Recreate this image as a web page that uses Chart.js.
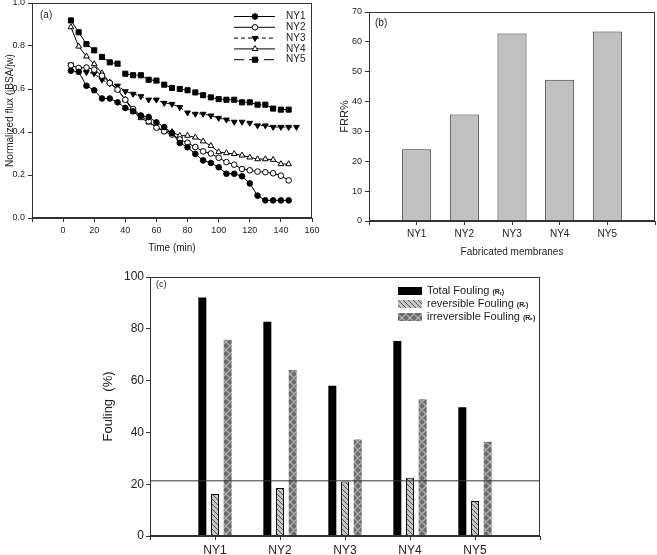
<!DOCTYPE html>
<html>
<head>
<meta charset="utf-8">
<script src="https://cdn.jsdelivr.net/npm/chart.js@4.4.1/dist/chart.umd.min.js"></script>
<style>
    body { margin: 0; background: #fff; width: 657px; height: 555px; position: relative; overflow: hidden; }
    canvas { position: absolute; }
</style>
</head>
<body>
<canvas id="fluxChart" width="330" height="260" style="left:0;top:-2px"></canvas>
<canvas id="frrChart" width="327" height="262" style="left:330px;top:0"></canvas>
<canvas id="foulChart" width="567" height="293" style="left:90px;top:262px"></canvas>
<script>
// (a) normalized flux vs time
const time = [5, 10, 15, 20, 25, 30, 35, 40, 45, 50, 55, 60, 65, 70, 75, 80, 85, 90, 95, 100, 105, 110, 115, 120, 125, 130, 135, 140, 145, 150]
const ny1 = [0.685, 0.68, 0.615, 0.594, 0.556, 0.556, 0.538, 0.512, 0.496, 0.476, 0.47, 0.445, 0.423, 0.395, 0.349, 0.329, 0.298, 0.268, 0.256, 0.236, 0.206, 0.206, 0.194, 0.161, 0.104, 0.082, 0.082, 0.082, 0.082]
const ny2 = [0.71, 0.698, 0.70, 0.69, 0.662, 0.628, 0.597, 0.55, 0.507, 0.476, 0.45, 0.42, 0.403, 0.388, 0.365, 0.35, 0.33, 0.31, 0.30, 0.28, 0.26, 0.248, 0.228, 0.222, 0.216, 0.213, 0.208, 0.197, 0.175]
const ny3 = [0.713, 0.69, 0.678, 0.672, 0.643, 0.625, 0.615, 0.589, 0.577, 0.566, 0.55, 0.55, 0.535, 0.53, 0.515, 0.49, 0.484, 0.484, 0.476, 0.465, 0.457, 0.447, 0.447, 0.442, 0.43, 0.43, 0.423, 0.423, 0.423, 0.423]
const ny4 = [0.888, 0.798, 0.752, 0.716, 0.674, 0.631, 0.597, 0.55, 0.496, 0.465, 0.445, 0.423, 0.406, 0.40, 0.383, 0.383, 0.375, 0.357, 0.336, 0.307, 0.302, 0.298, 0.291, 0.282, 0.274, 0.274, 0.271, 0.251, 0.251]
const ny5 = [0.919, 0.864, 0.809, 0.78, 0.749, 0.724, 0.718, 0.671, 0.664, 0.664, 0.643, 0.639, 0.62, 0.605, 0.6, 0.594, 0.584, 0.571, 0.561, 0.553, 0.55, 0.55, 0.538, 0.538, 0.527, 0.527, 0.509, 0.504, 0.504]

// (b) FRR
const membranes = ["NY1", "NY2", "NY3", "NY4", "NY5"]
const frr = [24, 35.7, 62.8, 47.3, 63.5]

// (c) fouling
const totalFouling = [92.1, 82.7, 58, 75.3, 49.7]
const reversibleFouling = [16.2, 18.5, 21, 22.5, 13.5]
const irreversibleFouling = [75.8, 64.1, 37.3, 52.8, 36.4]
const refLevel = 21.3

const FONT = "'Liberation Sans', Arial, sans-serif"
Chart.defaults.font.family = FONT
Chart.defaults.color = "#222"

const toPoints = arr => arr.map((v, i) => ({ x: time[i], y: v }))
const toBars = arr => arr.map((v, i) => ({ x: i + 1, y: v }))

function makePattern(bg, fg, size, cross, lw) {
    const c = document.createElement("canvas")
    c.width = size
    c.height = size
    const g = c.getContext("2d")
    g.fillStyle = bg
    g.fillRect(0, 0, size, size)
    g.strokeStyle = fg
    g.lineWidth = lw
    g.beginPath()
    for (const k of [-size, 0, size]) {
        g.moveTo(k, 0)
        g.lineTo(k + size, size)
        if (cross) {
            g.moveTo(k + size, 0)
            g.lineTo(k, size)
        }
    }
    g.stroke()
    return g.createPattern(c, "repeat")
}

const revPattern = makePattern("#c6c6c6", "#333", 5, false, 0.8)
const irrPattern = makePattern("#6c6c6c", "#b8b8b8", 8, true, 1.2)

// box around the plot area
const frame = {
    id: "frame",
    afterDraw(chart) {
        const { ctx, chartArea: a } = chart
        ctx.save()
        ctx.strokeStyle = "#333"
        ctx.lineWidth = 1
        ctx.strokeRect(Math.round(a.left) + 0.5, Math.round(a.top) + 0.5, Math.round(a.right - a.left) - 1, Math.round(a.bottom - a.top) - 1)
        ctx.restore()
    }
}

const panelLabel = {
    id: "panelLabel",
    afterDraw(chart, args, opts) {
        const ctx = chart.ctx
        ctx.save()
        ctx.font = opts.size + "px " + FONT
        ctx.fillStyle = "#222"
        ctx.textBaseline = "middle"
        ctx.fillText(opts.text, opts.x, opts.y)
        ctx.restore()
    }
}

const fluxLegend = {
    id: "fluxLegend",
    afterDraw(chart) {
        const ctx = chart.ctx
        chart.data.datasets.forEach((ds, i) => {
            const y = 18.5 + i * 10.8
            ctx.save()
            ctx.strokeStyle = "#000"
            ctx.lineWidth = 1
            ctx.setLineDash(ds.borderDash || [])
            ctx.beginPath()
            ctx.moveTo(234, y)
            ctx.lineTo(275, y)
            ctx.stroke()
            ctx.setLineDash([])
            ctx.fillStyle = ds.pointBackgroundColor
            ctx.strokeStyle = "#000"
            Chart.helpers.drawPoint(ctx, { pointStyle: ds.pointStyle, radius: ds.pointRadius, rotation: ds.pointRotation || 0, borderWidth: 1 }, 255, y)
            ctx.fillStyle = "#222"
            ctx.font = "10px " + FONT
            ctx.textBaseline = "middle"
            ctx.fillText(ds.label, 286, y)
            ctx.restore()
        })
    }
}

const foulLegend = {
    id: "foulLegend",
    afterDraw(chart) {
        const ctx = chart.ctx
        const items = [
            ["Total Fouling ", "(R\u209c)"],
            ["reversible Fouling ", "(R\u1d63)"],
            ["irreversible Fouling ", "(R\u1d62\u1d63)"]
        ]
        items.forEach((item, i) => {
            const ds = chart.data.datasets[i]
            const y = 29 + i * 13
            ctx.save()
            ctx.fillStyle = ds.backgroundColor
            ctx.fillRect(308, y - 4, 24, 8)
            ctx.fillStyle = "#222"
            ctx.textBaseline = "middle"
            ctx.font = "11px " + FONT
            ctx.fillText(item[0], 337, y)
            const w = ctx.measureText(item[0]).width
            ctx.font = "bold 7px " + FONT
            ctx.fillText(item[1], 337 + w, y + 1)
            ctx.restore()
        })
    }
}

const flatTicks = { drawOnChartArea: false, tickLength: 4, color: "#333" }
const fixX = h => s => { s.height = h; s.paddingLeft = 0; s.paddingRight = 0 }
const fixY = w => s => { s.width = w; s.paddingTop = 0; s.paddingBottom = 0 }

new Chart(document.getElementById("fluxChart"), {
    type: "line",
    data: {
        datasets: [
            { label: "NY1", data: toPoints(ny1), pointStyle: "circle", pointRadius: 2.8, pointBackgroundColor: "#000" },
            { label: "NY2", data: toPoints(ny2), pointStyle: "circle", pointRadius: 2.8, pointBackgroundColor: "#fff" },
            { label: "NY3", data: toPoints(ny3), pointStyle: "triangle", pointRotation: 180, pointRadius: 3.3, pointBackgroundColor: "#000", borderDash: [4, 3] },
            { label: "NY4", data: toPoints(ny4), pointStyle: "triangle", pointRadius: 3.3, pointBackgroundColor: "#fff" },
            { label: "NY5", data: toPoints(ny5), pointStyle: "rect", pointRadius: 3.6, pointBackgroundColor: "#000", borderDash: [10, 5] }
        ].map(ds => ({ ...ds, borderColor: "#000", borderWidth: 1, pointBorderColor: "#000", pointBorderWidth: 1, tension: 0 }))
    },
    options: {
        responsive: false,
        animation: false,
        devicePixelRatio: 1,
        events: [],
        layout: { padding: { top: 0, right: 18, left: 0, bottom: 0 } },
        scales: {
            x: {
                type: "linear",
                min: -20,
                max: 160,
                ticks: { stepSize: 20, font: { size: 9 }, maxRotation: 0, padding: 3, callback: v => v < 0 ? "" : v },
                grid: flatTicks,
                border: { color: "#333" },
                title: { display: true, text: "Time (min)", font: { size: 10 }, padding: { top: 2, bottom: 4 } },
                afterFit: fixX(40)
            },
            y: {
                min: 0,
                max: 1,
                ticks: { stepSize: 0.2, font: { size: 9 }, padding: 3, callback: v => v.toFixed(1) },
                grid: flatTicks,
                border: { color: "#333" },
                title: { display: true, text: "Normalized flux (jBSA/jw)", font: { size: 10 }, padding: { top: 4, bottom: 2 } },
                afterFit: fixY(32)
            }
        },
        plugins: {
            legend: { display: false },
            tooltip: { enabled: false },
            panelLabel: { text: "(a)", x: 40, y: 17, size: 10 }
        }
    },
    plugins: [frame, panelLabel, fluxLegend]
})

new Chart(document.getElementById("frrChart"), {
    type: "bar",
    data: {
        datasets: [{
            label: "FRR%",
            data: toBars(frr),
            backgroundColor: "#c0c0c0",
            borderColor: "#333",
            borderWidth: 1,
            categoryPercentage: 1,
            barPercentage: 0.61
        }]
    },
    options: {
        responsive: false,
        animation: false,
        devicePixelRatio: 1,
        events: [],
        layout: { padding: { top: 12, right: 2, left: 0, bottom: 0 } },
        scales: {
            x: {
                type: "linear",
                min: 0,
                max: 6,
                offset: false,
                ticks: { stepSize: 1, font: { size: 10 }, maxRotation: 0, padding: 3, callback: v => membranes[v - 1] || "" },
                grid: { ...flatTicks, offset: false },
                border: { color: "#333" },
                title: { display: true, text: "Fabricated membranes", font: { size: 10 }, padding: { top: 2, bottom: 4 } },
                afterFit: fixX(41)
            },
            y: {
                min: 0,
                max: 70,
                ticks: { stepSize: 10, font: { size: 9 }, padding: 3 },
                grid: flatTicks,
                border: { color: "#333" },
                title: { display: true, text: "FRR%", font: { size: 11 }, padding: { top: 8, bottom: 2 } },
                afterFit: fixY(39)
            }
        },
        plugins: {
            legend: { display: false },
            tooltip: { enabled: false },
            panelLabel: { text: "(b)", x: 45, y: 23, size: 10 }
        }
    },
    plugins: [frame, panelLabel]
})

new Chart(document.getElementById("foulChart"), {
    type: "bar",
    data: {
        datasets: [
            { label: "Total Fouling", data: toBars(totalFouling), backgroundColor: "#000", borderWidth: 0, order: 1 },
            { label: "reversible Fouling", data: toBars(reversibleFouling), backgroundColor: revPattern, borderColor: "#111", borderWidth: 1, order: 1 },
            { label: "irreversible Fouling", data: toBars(irreversibleFouling), backgroundColor: irrPattern, borderWidth: 0, order: 1 },
            {
                type: "line",
                label: "reference",
                data: [{ x: 0, y: refLevel }, { x: 6, y: refLevel }],
                borderColor: "#333",
                borderWidth: 1,
                pointRadius: 0,
                order: 0
            }
        ].map(ds => ds.type ? ds : { ...ds, categoryPercentage: 0.585, barPercentage: 0.63 })
    },
    options: {
        responsive: false,
        animation: false,
        devicePixelRatio: 1,
        events: [],
        layout: { padding: { top: 15, right: 117, left: 0, bottom: 0 } },
        scales: {
            x: {
                type: "linear",
                min: 0,
                max: 6,
                offset: false,
                ticks: { stepSize: 1, font: { size: 12 }, maxRotation: 0, padding: 3, callback: v => membranes[v - 1] || "" },
                grid: { ...flatTicks, offset: false },
                border: { color: "#333" },
                afterFit: fixX(19)
            },
            y: {
                min: 0,
                max: 100,
                ticks: { stepSize: 20, font: { size: 12 }, padding: 2 },
                grid: flatTicks,
                border: { color: "#333" },
                title: { display: true, text: "Fouling  (%)", font: { size: 13 }, padding: { top: 11, bottom: 2 } },
                afterFit: fixY(60)
            }
        },
        plugins: {
            legend: { display: false },
            tooltip: { enabled: false },
            panelLabel: { text: "(c)", x: 66, y: 23, size: 9 }
        }
    },
    plugins: [frame, panelLabel, foulLegend]
})
</script>
</body>
</html>
